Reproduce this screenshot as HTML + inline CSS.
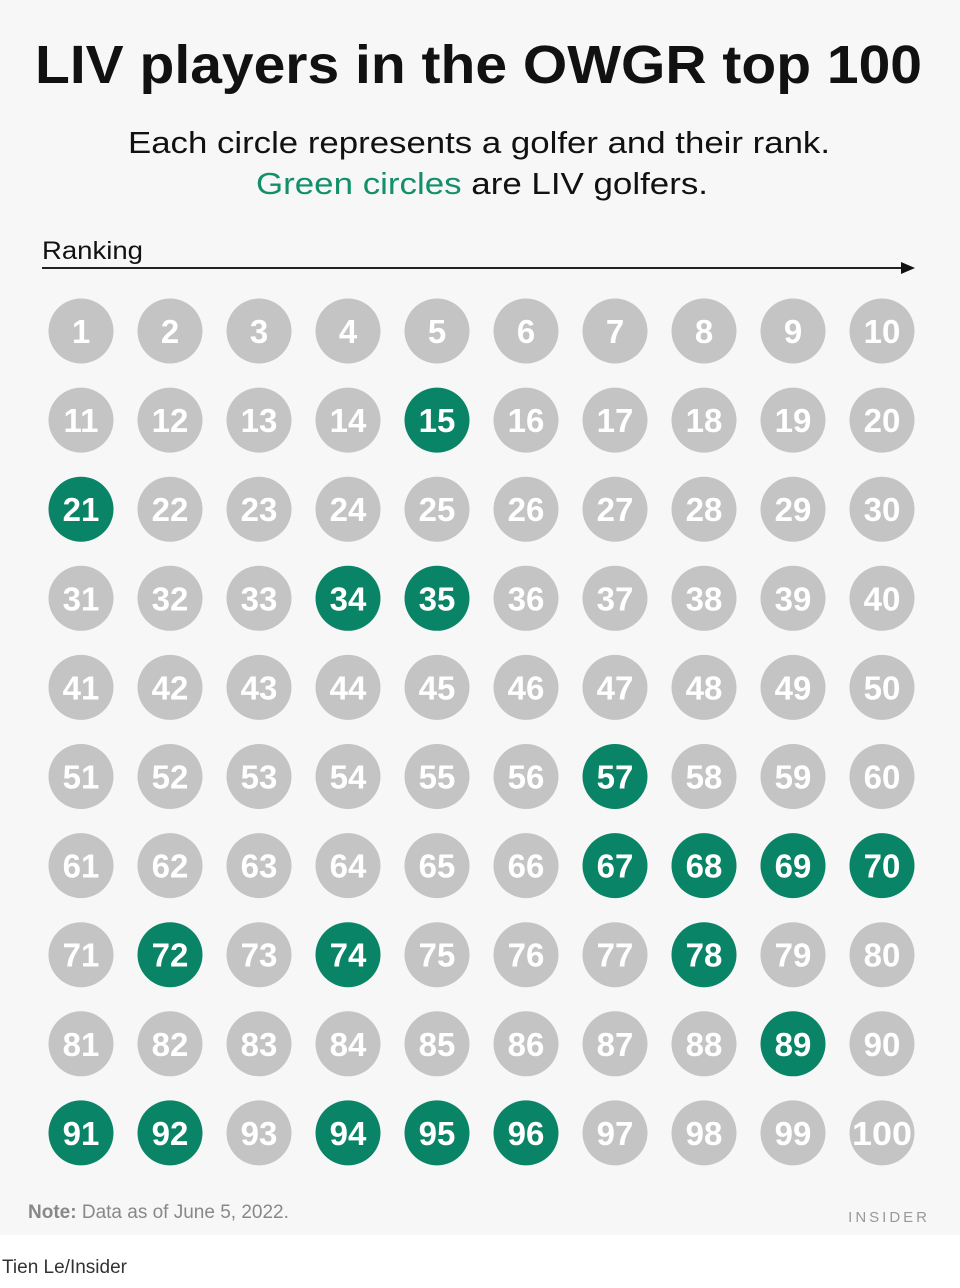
<!DOCTYPE html>
<html><head><meta charset="utf-8"><style>
html,body{margin:0;padding:0;background:#fff;}
svg{display:block;}
</style></head><body>
<svg width="960" height="1288" viewBox="0 0 960 1288" xmlns="http://www.w3.org/2000/svg" font-family="Liberation Sans, sans-serif">
<rect x="0" y="0" width="960" height="1235" fill="#f7f7f7"/>
<text x="35" y="83" font-size="54" font-weight="bold" fill="#111" textLength="887" lengthAdjust="spacingAndGlyphs">LIV players in the OWGR top 100</text>
<text x="128" y="153" font-size="31" fill="#111" textLength="702" lengthAdjust="spacingAndGlyphs">Each circle represents a golfer and their rank.</text>
<text x="256" y="194" font-size="31" fill="#111" textLength="452" lengthAdjust="spacingAndGlyphs"><tspan fill="#13906a">Green circles</tspan> are LIV golfers.</text>
<text x="42" y="259" font-size="25" fill="#111" textLength="101" lengthAdjust="spacingAndGlyphs">Ranking</text>
<line x1="42" y1="268" x2="904" y2="268" stroke="#222" stroke-width="2"/>
<polygon points="915,268 901,262 901,274" fill="#111"/>
<g id="grid" font-weight="bold" font-size="33" text-anchor="middle" fill="#fff"></g>
<text x="28" y="1218" font-size="19" fill="#888"><tspan font-weight="bold">Note:</tspan> Data as of June 5, 2022.</text>
<text x="930" y="1222" font-size="15" fill="#999" text-anchor="end" letter-spacing="3">INSIDER</text>
<text x="2" y="1273" font-size="19" fill="#333">Tien Le/Insider</text>
</svg>
<script>
var liv=[15,21,34,35,57,67,68,69,70,72,74,78,89,91,92,94,95,96];
var g=document.getElementById('grid'),ns='http://www.w3.org/2000/svg',h='';
for(var i=0;i<100;i++){var n=i+1,c=i%10,r=Math.floor(i/10);
var x=81+c*89,y=331+r*89.1;var col=liv.indexOf(n)>=0?'#0a8466':'#c4c4c4';
h+='<circle cx="'+x+'" cy="'+y+'" r="32.5" fill="'+col+'"/>';
h+='<text x="'+x+'" y="'+(y+12)+'"'+(n==100?' textLength="60" lengthAdjust="spacingAndGlyphs"':'')+'>'+n+'</text>';}
g.innerHTML=h;
</script>
</body></html>
